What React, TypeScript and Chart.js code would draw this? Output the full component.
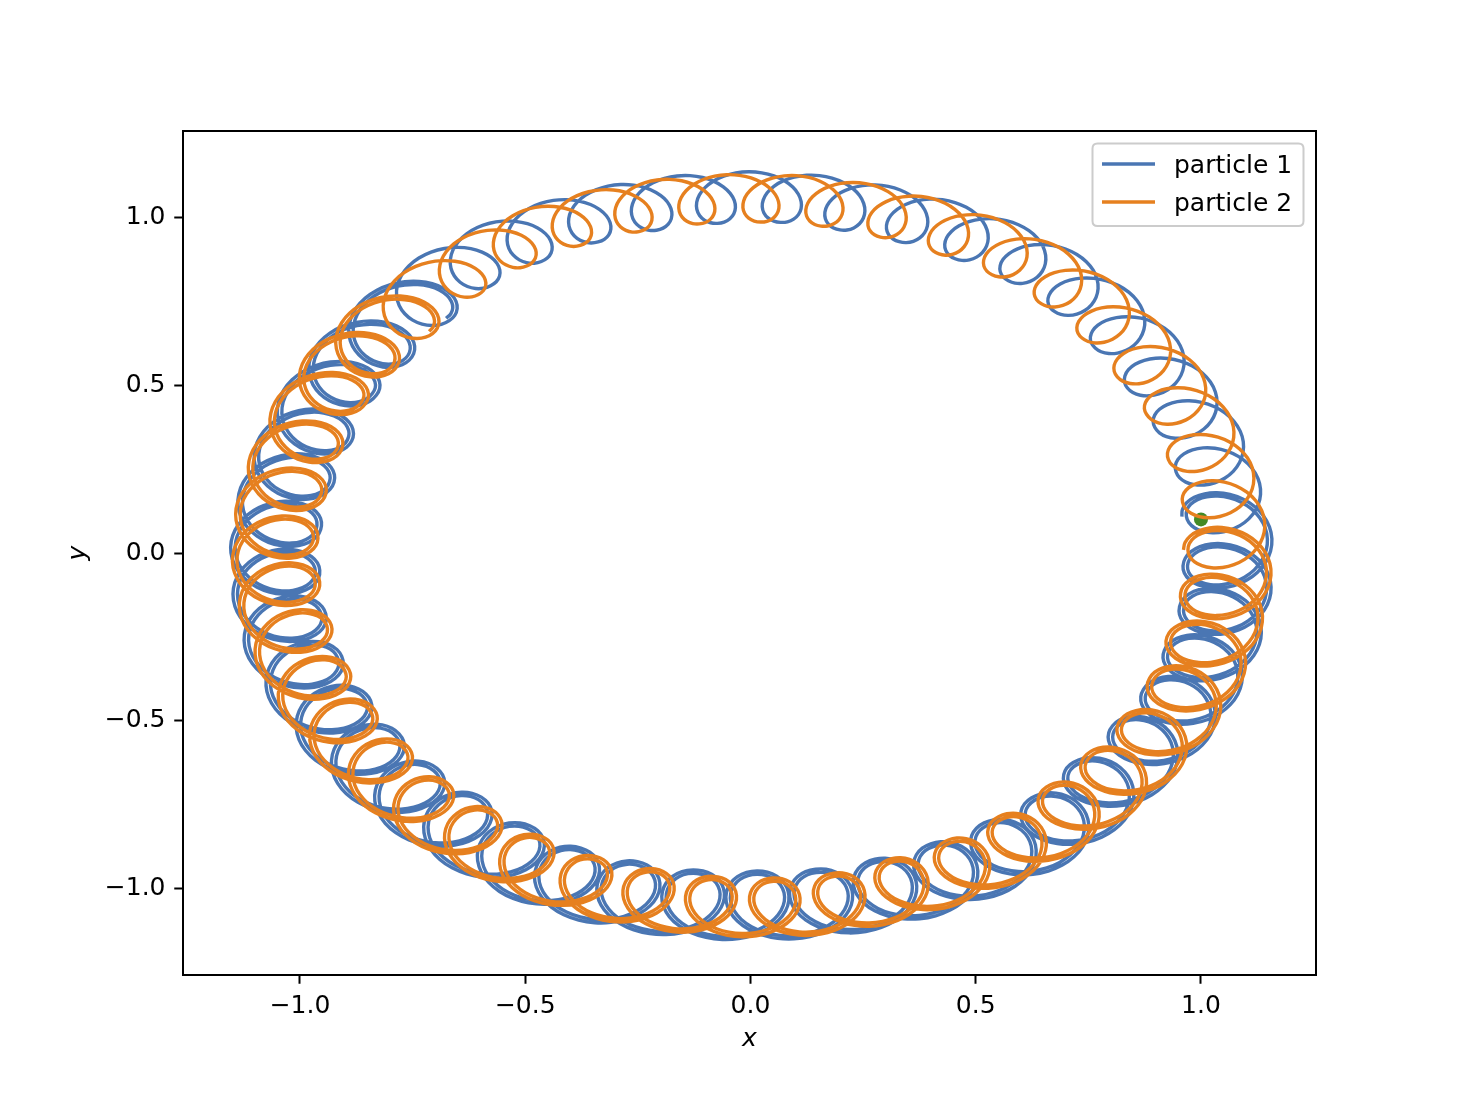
import React, { useEffect, useRef } from 'react';
import { Chart, registerables } from 'chart.js';

Chart.register(...registerables);

// ---- axis data ----
const xTicks = [-1.0, -0.5, 0.0, 0.5, 1.0];
const yTicks = [-1.0, -0.5, 0.0, 0.5, 1.0];
const xLimits = [-1.2597, 1.2553];
const yLimits = [-1.256, 1.256];
const seriesLabels = ['particle 1', 'particle 2'];
const axisLabels = ['x', 'y'];

// ---- particle 1 (blue): loop centres in order of travel ----
const p1LoopX = [-0.734, -0.834, -0.916, -0.978, -1.022, -1.052, -1.056, -1.041, -1.003, -0.937,
  -0.864, -0.771, -0.663, -0.543, -0.417, -0.278, -0.130, 0.016, 0.160, 0.306,
  0.443, 0.574, 0.689, 0.785, 0.888, 0.963, 1.014, 1.051, 1.060, 1.056,
  1.030, 0.978, 0.910, 0.830, 0.730, 0.618, 0.490, 0.356, 0.214, 0.072,
  -0.079, -0.225, -0.365, -0.502, -0.625];
const p1LoopY = [0.759, 0.632, 0.518, 0.368, 0.233, 0.089, -0.057, -0.200, -0.340, -0.476,
  -0.596, -0.710, -0.806, -0.900, -0.973, -1.018, -1.046, -1.049, -1.043, -1.010,
  -0.958, -0.889, -0.806, -0.697, -0.568, -0.448, -0.320, -0.176, -0.042, 0.119,
  0.263, 0.407, 0.534, 0.662, 0.778, 0.875, 0.945, 0.999, 1.036, 1.060,
  1.057, 1.036, 0.999, 0.938, 0.862];
const p1LoopR = [0.084, 0.086, 0.088, 0.089, 0.090, 0.090, 0.090, 0.090, 0.091, 0.091,
  0.092, 0.092, 0.093, 0.093, 0.093, 0.093, 0.093, 0.093, 0.093, 0.093,
  0.092, 0.092, 0.091, 0.091, 0.090, 0.090, 0.090, 0.090, 0.090, 0.089,
  0.088, 0.087, 0.085, 0.083, 0.081, 0.079, 0.078, 0.077, 0.076, 0.076,
  0.076, 0.077, 0.078, 0.080, 0.082];
const p1SecondPassLoops = 30;
const p1SecondPassGap = 0.010;

// ---- particle 2 (orange) ----
const p2LoopX = [-0.772, -0.865, -0.938, -0.998, -1.037, -1.056, -1.052, -1.024, -0.980, -0.918,
  -0.836, -0.740, -0.628, -0.508, -0.374, -0.231, -0.090, 0.055, 0.202, 0.343,
  0.481, 0.604, 0.721, 0.821, 0.905, 0.976, 1.020, 1.053, 1.060, 1.046,
  1.011, 0.956, 0.884, 0.797, 0.697, 0.578, 0.450, 0.310, 0.168, 0.024,
  -0.122, -0.266, -0.406, -0.535, -0.652];
const p2LoopY = [0.714, 0.600, 0.488, 0.338, 0.194, 0.048, -0.095, -0.237, -0.381, -0.510,
  -0.631, -0.748, -0.838, -0.922, -0.987, -1.027, -1.051, -1.056, -1.041, -0.996,
  -0.936, -0.861, -0.765, -0.660, -0.546, -0.411, -0.276, -0.132, 0.010, 0.165,
  0.303, 0.449, 0.569, 0.693, 0.802, 0.893, 0.958, 1.011, 1.045, 1.057,
  1.051, 1.027, 0.984, 0.920, 0.831];
const p2LoopR = [0.080, 0.082, 0.084, 0.085, 0.086, 0.086, 0.086, 0.086, 0.085, 0.084,
  0.083, 0.082, 0.081, 0.080, 0.079, 0.079, 0.079, 0.079, 0.080, 0.081,
  0.082, 0.083, 0.084, 0.086, 0.087, 0.088, 0.089, 0.089, 0.089, 0.088,
  0.087, 0.085, 0.083, 0.081, 0.079, 0.077, 0.075, 0.074, 0.073, 0.072,
  0.072, 0.073, 0.074, 0.076, 0.078];
const p2SecondPassLoops = 29;
const p2SecondPassGap = 0.010;

// ---- marker ----
const markerX = [1.0];
const markerY = [0.1];

const BLUE = '#4a76b3';
const ORANGE = '#e6801f';
const GREEN = '#438a26';
const FONT = '"DejaVu Sans", "Liberation Sans", sans-serif';
const FS = 25;
const LW = 3.4;

function trajectory(lx: number[], ly: number[], lr: number[], passLoops: number, gap: number) {
  const seq: number[][] = [];
  for (let k = 0; k < lx.length; k++) seq.push([lx[k], ly[k], lr[k]]);
  for (let k = 0; k < passLoops; k++) seq.push([lx[k], ly[k], lr[k] + gap]);
  const pts: { x: number; y: number }[] = [];
  const N = 22;
  const put = (cx: number, cy: number, r: number, ph: number) => {
    const d = Math.hypot(cx, cy);
    const ux = cx / d, uy = cy / d;
    const tx = -uy, ty = ux;
    pts.push({
      x: cx + r * (Math.cos(ph) * ux + Math.sin(ph) * tx),
      y: cy + r * (Math.cos(ph) * uy + Math.sin(ph) * ty),
    });
  };
  for (let i = 0; i < seq.length - 1; i++) {
    const a = seq[i], b = seq[i + 1];
    for (let j = 0; j < N; j++) {
      const s = j / N;
      put(a[0] + (b[0] - a[0]) * s, a[1] + (b[1] - a[1]) * s, a[2] + (b[2] - a[2]) * s, Math.PI + 2 * Math.PI * s);
    }
  }
  const z = seq[seq.length - 1];
  put(z[0], z[1], z[2], Math.PI);
  return pts;
}

const fmt = (v: number) => (v < 0 ? '\u2212' : '') + Math.abs(v).toFixed(1);

const decorPlugin = {
  id: 'decor',
  afterDraw(chart: any) {
    const { ctx, chartArea } = chart;
    ctx.save();
    // top & right spines
    ctx.strokeStyle = '#000';
    ctx.lineWidth = 2;
    ctx.beginPath();
    ctx.moveTo(chartArea.left, chartArea.top);
    ctx.lineTo(chartArea.right, chartArea.top);
    ctx.lineTo(chartArea.right, chartArea.bottom);
    ctx.stroke();
    // axis labels
    ctx.fillStyle = '#000';
    ctx.font = `italic ${FS}px ${FONT}`;
    ctx.textAlign = 'center';
    ctx.textBaseline = 'middle';
    ctx.fillText(axisLabels[0], (chartArea.left + chartArea.right) / 2, 1039);
    ctx.save();
    ctx.translate(78, (chartArea.top + chartArea.bottom) / 2);
    ctx.rotate(-Math.PI / 2);
    ctx.fillText(axisLabels[1], 0, 0);
    ctx.restore();
    // legend
    const lx = 1092.5, ly = 143.5, lw = 211, lh = 82.5, rad = 5;
    ctx.beginPath();
    ctx.moveTo(lx + rad, ly);
    ctx.lineTo(lx + lw - rad, ly);
    ctx.quadraticCurveTo(lx + lw, ly, lx + lw, ly + rad);
    ctx.lineTo(lx + lw, ly + lh - rad);
    ctx.quadraticCurveTo(lx + lw, ly + lh, lx + lw - rad, ly + lh);
    ctx.lineTo(lx + rad, ly + lh);
    ctx.quadraticCurveTo(lx, ly + lh, lx, ly + lh - rad);
    ctx.lineTo(lx, ly + rad);
    ctx.quadraticCurveTo(lx, ly, lx + rad, ly);
    ctx.closePath();
    ctx.fillStyle = 'rgba(255,255,255,0.8)';
    ctx.fill();
    ctx.strokeStyle = '#cccccc';
    ctx.lineWidth = 2;
    ctx.stroke();
    const rows = [
      { label: seriesLabels[0], color: BLUE, y: 164 },
      { label: seriesLabels[1], color: ORANGE, y: 202 },
    ];
    ctx.font = `${FS}px ${FONT}`;
    ctx.textAlign = 'left';
    ctx.textBaseline = 'middle';
    for (const r of rows) {
      ctx.strokeStyle = r.color;
      ctx.lineWidth = LW;
      ctx.beginPath();
      ctx.moveTo(1102, r.y);
      ctx.lineTo(1155, r.y);
      ctx.stroke();
      ctx.fillStyle = '#000';
      ctx.fillText(r.label, 1174, r.y + 2);
    }
    ctx.restore();
  },
};

export default function App() {
  const ref = useRef<HTMLCanvasElement | null>(null);
  useEffect(() => {
    document.body.style.margin = '0';
    const canvas = ref.current;
    if (!canvas) return;
    const p1 = trajectory(p1LoopX, p1LoopY, p1LoopR, p1SecondPassLoops, p1SecondPassGap);
    const p2 = trajectory(p2LoopX, p2LoopY, p2LoopR, p2SecondPassLoops, p2SecondPassGap);
    const marker = markerX.map((x, i) => ({ x, y: markerY[i] }));
    const tickFont = { family: FONT, size: FS };
    const chart = new Chart(canvas, {
      type: 'scatter',
      data: {
        datasets: [
          { label: seriesLabels[1], data: p2, showLine: true, borderColor: ORANGE, backgroundColor: ORANGE, borderWidth: LW, pointRadius: 0, tension: 0.4, borderJoinStyle: 'round', order: 0 } as any,
          { label: seriesLabels[0], data: p1, showLine: true, borderColor: BLUE, backgroundColor: BLUE, borderWidth: LW, pointRadius: 0, tension: 0.4, borderJoinStyle: 'round', order: 1 } as any,
          { label: 'marker', data: marker, showLine: false, pointRadius: 7, pointBackgroundColor: GREEN, pointBorderColor: GREEN, pointBorderWidth: 0, order: 2 } as any,
        ],
      },
      options: {
        animation: false,
        responsive: false,
        devicePixelRatio: 1,
        events: [],
        layout: { padding: { left: 0, top: 131, right: 147, bottom: 0 } },
        plugins: { legend: { display: false }, tooltip: { enabled: false } },
        scales: {
          x: {
            type: 'linear',
            min: xLimits[0],
            max: xLimits[1],
            afterBuildTicks: (axis: any) => { axis.ticks = xTicks.map((v) => ({ value: v })); },
            afterFit: (axis: any) => { axis.height = 122; },
            ticks: { callback: (v: any) => fmt(Number(v)), font: tickFont, color: '#000', padding: 8, maxRotation: 0, autoSkip: false },
            grid: { drawOnChartArea: false, drawTicks: true, tickLength: 8.75, tickWidth: 2, tickColor: '#000' },
            border: { display: true, color: '#000', width: 2 },
          },
          y: {
            type: 'linear',
            min: yLimits[0],
            max: yLimits[1],
            afterBuildTicks: (axis: any) => { axis.ticks = yTicks.map((v) => ({ value: v })); },
            afterFit: (axis: any) => { axis.width = 183; },
            ticks: { callback: (v: any) => fmt(Number(v)), font: tickFont, color: '#000', padding: 8.75, autoSkip: false },
            grid: { drawOnChartArea: false, drawTicks: true, tickLength: 8.75, tickWidth: 2, tickColor: '#000' },
            border: { display: true, color: '#000', width: 2 },
          },
        },
      } as any,
      plugins: [decorPlugin],
    });
    return () => chart.destroy();
  }, []);
  return (
    <div style={{ width: 1463, height: 1097, background: '#fff' }}>
      <canvas ref={ref} width={1463} height={1097} style={{ display: 'block', width: 1463, height: 1097 }} />
    </div>
  );
}
